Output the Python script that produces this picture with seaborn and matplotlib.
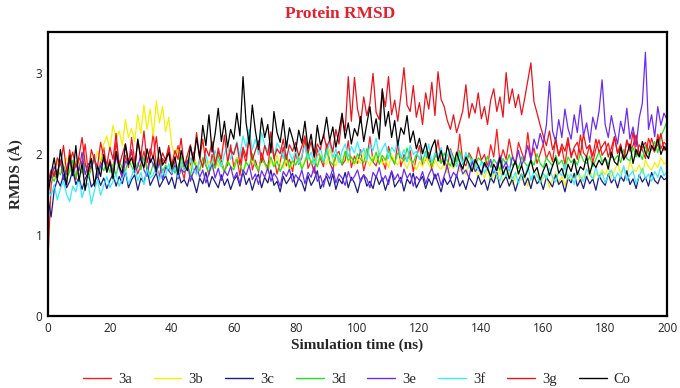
import numpy as np
import pandas as pd
import matplotlib
matplotlib.use("Agg")
import matplotlib.pyplot as plt
import seaborn as sns

# ---------------- data (RMSD in Å, sampled every 1 ns from 0 to 200 ns) ----------------
time_ns = list(range(0, 201))
ligands = ["3a", "3b", "3c", "3d", "3e", "3f", "3g", "Co"]

rmsd_3a = [
    0.70, 1.62, 1.78, 1.70, 1.92, 1.85, 1.74, 2.05, 1.80, 1.68, 1.95, 1.88, 2.12, 1.76, 1.84, 1.99, 1.72, 1.90, 2.08, 1.81,
    1.93, 1.77, 2.15, 1.86, 1.70, 1.98, 1.83, 2.20, 1.91, 1.75, 1.87, 2.03, 1.79, 1.96, 2.25, 1.84, 1.72, 1.94, 1.88, 2.06,
    1.78, 1.90, 2.10, 1.82, 1.69, 1.97, 1.85, 2.02, 1.76, 1.93, 2.18, 1.87, 1.74, 1.99, 1.83, 2.07, 1.91, 1.79, 1.86, 2.11,
    1.84, 1.95, 1.73, 2.04, 1.88, 2.22, 1.80, 1.92, 1.77, 2.01, 1.89, 1.83, 2.14, 1.96, 1.75, 1.90, 2.08, 1.85, 1.93, 1.78,
    2.00, 1.87, 1.95, 2.19, 1.82, 1.91, 1.76, 2.06, 1.94, 1.84, 2.12, 1.89, 1.80, 1.98, 2.03, 1.86, 1.92, 2.16, 1.83, 1.97,
    1.88, 2.05, 1.79, 1.94, 2.21, 1.90, 1.85, 2.00, 1.93, 1.81, 2.09, 1.96, 1.87, 2.13, 1.84, 1.99, 1.91, 2.04, 1.78, 1.95,
    2.10, 1.86, 1.93, 2.02, 1.80, 1.97, 2.17, 1.89, 1.92, 1.83, 2.06, 1.95, 1.88, 2.24, 1.90, 1.85, 2.01, 1.94, 1.87, 2.08,
    1.92, 1.99, 1.84, 2.11, 1.96, 2.30, 1.89, 2.05, 1.93, 2.18, 1.98, 1.87, 2.14, 2.02, 1.91, 2.26, 1.95, 2.07, 1.88, 2.00,
    2.12, 1.94, 2.03, 1.90, 2.20, 1.97, 2.08, 1.86, 2.15, 1.99, 2.05, 1.93, 2.23, 2.01, 1.96, 2.10, 1.89, 2.06, 2.17, 1.98,
    2.04, 2.13, 1.95, 2.21, 2.00, 2.09, 1.92, 2.16, 2.03, 2.27, 1.97, 2.11, 2.05, 1.94, 2.19, 2.08, 2.02, 2.24, 2.06, 2.14,
    2.10,
]

rmsd_3b = [
    1.68, 1.75, 1.82, 1.90, 1.78, 1.86, 1.95, 1.81, 1.73, 1.92, 1.84, 2.00, 1.88, 1.79, 1.96, 1.87, 2.03, 1.91, 2.12, 2.22,
    2.05, 2.35, 2.18, 2.28, 2.10, 2.42, 2.20, 2.31, 2.15, 2.48, 2.25, 2.60, 2.30, 2.55, 2.22, 2.65, 2.38, 2.58, 2.27, 2.45,
    2.10, 1.98, 2.05, 1.90, 1.85, 1.96, 1.82, 1.93, 1.88, 1.79, 1.94, 1.86, 1.91, 1.80, 1.97, 1.84, 1.89, 1.77, 1.92, 1.85,
    1.81, 1.95, 1.87, 1.78, 1.90, 1.83, 1.96, 1.86, 1.80, 1.93, 1.88, 1.76, 1.91, 1.84, 1.98, 1.87, 1.82, 1.94, 1.79, 1.90,
    1.86, 1.97, 1.83, 1.92, 2.02, 1.88, 1.95, 1.84, 1.99, 1.91, 1.87, 2.05, 1.93, 1.85, 1.98, 1.90, 2.03, 1.89, 1.96, 1.86,
    1.94, 1.88, 2.01, 1.92, 1.85, 1.97, 1.90, 2.04, 1.87, 1.95, 1.83, 1.99, 1.91, 1.86, 1.96, 1.89, 1.82, 1.93, 1.88, 1.80,
    1.90, 1.84, 1.95, 1.87, 1.79, 1.92, 1.85, 1.81, 1.88, 1.76, 1.86, 1.82, 1.91, 1.78, 1.84, 1.74, 1.87, 1.80, 1.83, 1.72,
    1.78, 1.70, 1.82, 1.66, 1.75, 1.69, 1.80, 1.64, 1.73, 1.77, 1.62, 1.71, 1.79, 1.67, 1.74, 1.60, 1.72, 1.68, 1.76, 1.63,
    1.70, 1.74, 1.58, 1.69, 1.77, 1.65, 1.72, 1.61, 1.75, 1.68, 1.71, 1.79, 1.66, 1.73, 1.70, 1.82, 1.67, 1.76, 1.72, 1.80,
    1.74, 1.85, 1.71, 1.79, 1.88, 1.76, 1.83, 1.73, 1.90, 1.81, 1.78, 1.86, 1.75, 1.92, 1.84, 1.80, 1.89, 1.83, 1.95, 1.87,
    1.91,
]

rmsd_3c = [
    1.45, 1.22, 1.55, 1.68, 1.60, 1.74, 1.58, 1.66, 1.80, 1.62, 1.71, 1.56, 1.69, 1.77, 1.59, 1.65, 1.73, 1.61, 1.70, 1.57,
    1.67, 1.75, 1.60, 1.72, 1.63, 1.79, 1.58, 1.68, 1.74, 1.55, 1.70, 1.64, 1.81, 1.61, 1.69, 1.76, 1.59, 1.66, 1.73, 1.62,
    1.71, 1.57, 1.78, 1.64, 1.68, 1.60, 1.75, 1.66, 1.52, 1.70, 1.63, 1.77, 1.59, 1.72, 1.65, 1.58, 1.74, 1.61, 1.69, 1.56,
    1.67, 1.73, 1.60, 1.78, 1.62, 1.70, 1.55, 1.68, 1.75, 1.58, 1.71, 1.64, 1.80, 1.61, 1.66, 1.53, 1.72, 1.63, 1.69, 1.76,
    1.59, 1.70, 1.65, 1.54, 1.73, 1.61, 1.68, 1.79, 1.57, 1.66, 1.72, 1.60, 1.75, 1.56, 1.69, 1.63, 1.77, 1.58, 1.71, 1.64,
    1.52, 1.68, 1.74, 1.60, 1.66, 1.57, 1.73, 1.62, 1.70, 1.55, 1.67, 1.78, 1.59, 1.65, 1.71, 1.54, 1.69, 1.63, 1.76, 1.58,
    1.66, 1.72, 1.57, 1.69, 1.61, 1.75, 1.64, 1.53, 1.70, 1.62, 1.68, 1.58, 1.74, 1.60, 1.67, 1.56, 1.71, 1.65, 1.59, 1.73,
    1.62, 1.68, 1.55, 1.71, 1.64, 1.77, 1.58, 1.66, 1.72, 1.60, 1.69, 1.54, 1.67, 1.75, 1.61, 1.70, 1.57, 1.73, 1.63, 1.68,
    1.56, 1.71, 1.65, 1.59, 1.74, 1.62, 1.67, 1.53, 1.70, 1.64, 1.76, 1.60, 1.68, 1.57, 1.72, 1.63, 1.69, 1.55, 1.73, 1.66,
    1.61, 1.75, 1.64, 1.70, 1.58, 1.72, 1.66, 1.79, 1.62, 1.69, 1.57, 1.74, 1.65, 1.71, 1.60, 1.77, 1.67, 1.63, 1.73, 1.68,
    1.70,
]

rmsd_3d = [
    1.60, 1.72, 1.66, 1.80, 1.74, 1.85, 1.69, 1.78, 1.92, 1.71, 1.83, 1.76, 1.88, 1.70, 1.81, 1.95, 1.75, 1.86, 1.79, 1.90,
    1.77, 1.87, 1.73, 1.91, 1.82, 1.78, 1.94, 1.84, 1.76, 1.89, 1.80, 1.96, 1.83, 1.74, 1.88, 1.81, 1.93, 1.78, 1.86, 1.79,
    1.90, 1.76, 1.84, 1.97, 1.80, 1.87, 1.73, 1.92, 1.83, 1.79, 1.95, 1.85, 1.77, 1.89, 1.82, 1.98, 1.86, 1.78, 1.91, 1.84,
    1.80, 1.93, 1.87, 1.76, 1.90, 1.83, 2.00, 1.85, 1.79, 1.94, 1.88, 1.81, 1.96, 1.84, 1.91, 1.78, 1.87, 1.99, 1.83, 1.92,
    1.86, 1.95, 1.81, 1.90, 2.02, 1.88, 1.93, 1.84, 1.97, 1.89, 2.05, 1.91, 1.86, 1.99, 1.94, 1.87, 2.03, 1.92, 1.96, 1.88,
    2.00, 1.93, 1.89, 2.06, 1.95, 1.90, 2.02, 1.87, 1.98, 1.92, 2.04, 1.94, 1.88, 2.01, 1.96, 1.91, 2.07, 1.93, 1.89, 1.99,
    1.95, 1.90, 2.03, 1.92, 1.86, 1.98, 1.94, 1.88, 2.01, 1.91, 1.85, 1.96, 1.90, 2.04, 1.87, 1.93, 1.99, 1.89, 1.84, 1.95,
    1.91, 1.86, 1.97, 1.83, 1.93, 1.88, 1.80, 1.94, 1.87, 1.99, 1.85, 1.90, 1.82, 1.96, 1.89, 1.84, 1.92, 1.86, 2.00, 1.88,
    1.83, 1.95, 1.90, 1.85, 1.98, 1.87, 1.92, 1.81, 1.96, 1.89, 1.94, 1.86, 2.01, 1.91, 1.88, 1.97, 1.84, 1.93, 2.03, 1.90,
    1.95, 1.87, 2.00, 1.92, 1.98, 1.89, 2.05, 1.94, 1.91, 2.08, 1.96, 2.02, 1.93, 2.10, 1.99, 2.06, 2.15, 2.01, 2.22, 2.30,
    2.40,
]

rmsd_3e = [
    1.62, 1.70, 1.84, 1.76, 1.92, 1.68, 1.81, 1.95, 1.73, 1.87, 1.79, 2.02, 1.74, 1.88, 1.83, 1.96, 1.71, 1.85, 1.93, 1.78,
    1.89, 1.75, 1.97, 1.82, 1.70, 1.91, 1.86, 2.05, 1.77, 1.84, 1.99, 1.80, 1.72, 1.94, 1.87, 1.76, 1.90, 1.68, 1.83, 1.79,
    1.74, 1.86, 1.69, 1.81, 1.77, 1.92, 1.66, 1.78, 1.85, 1.71, 1.80, 1.64, 1.76, 1.88, 1.70, 1.82, 1.67, 1.79, 1.73, 1.84,
    1.69, 1.77, 1.63, 1.80, 1.74, 1.86, 1.68, 1.75, 1.62, 1.79, 1.71, 1.83, 1.66, 1.76, 1.70, 1.60, 1.78, 1.72, 1.81, 1.65,
    1.74, 1.68, 1.80, 1.63, 1.77, 1.71, 1.84, 1.66, 1.73, 1.59, 1.76, 1.69, 1.82, 1.64, 1.75, 1.70, 1.61, 1.78, 1.67, 1.72,
    1.80, 1.65, 1.74, 1.69, 1.58, 1.77, 1.71, 1.83, 1.66, 1.73, 1.62, 1.79, 1.68, 1.75, 1.64, 1.81, 1.70, 1.76, 1.60, 1.72,
    1.67, 1.78, 1.63, 1.74, 1.82, 1.69, 1.76, 1.61, 1.73, 1.85, 1.68, 1.77, 1.72, 1.88, 1.75, 1.80, 1.70, 1.91, 1.78, 1.84,
    1.74, 1.87, 1.80, 1.93, 1.76, 1.85, 1.98, 1.82, 1.90, 1.79, 1.96, 1.88, 2.04, 1.86, 1.95, 2.10, 1.92, 2.18, 2.06, 2.25,
    2.12, 2.35, 2.89, 2.28, 2.15, 2.42, 2.20, 2.55, 2.31, 2.18, 2.48, 2.26, 2.60, 2.22, 2.38, 2.14, 2.45, 2.30, 2.52, 2.91,
    2.36, 2.20, 2.47, 2.28, 2.12, 2.40, 2.25, 2.56, 2.18, 2.33, 2.09, 2.44, 2.62, 3.25, 2.30, 2.48, 2.21, 2.58, 2.35, 2.50,
    2.42,
]

rmsd_3f = [
    1.55, 1.48, 1.62, 1.43, 1.57, 1.66, 1.50, 1.41, 1.60, 1.53, 1.70, 1.46, 1.58, 1.64, 1.38, 1.55, 1.68, 1.49, 1.61, 1.72,
    1.58, 1.66, 1.75, 1.60, 1.69, 1.79, 1.63, 1.72, 1.84, 1.67, 1.77, 1.62, 1.81, 1.70, 1.74, 1.86, 1.68, 1.78, 1.73, 1.88,
    1.76, 1.83, 1.71, 1.90, 1.79, 1.85, 1.95, 1.80, 1.74, 1.92, 1.86, 1.99, 1.82, 1.89, 2.04, 1.91, 1.84, 2.00, 2.09, 1.93,
    2.02, 2.15, 1.97, 2.22, 2.08, 2.30, 2.05, 2.18, 1.99, 2.26, 2.11, 2.03, 2.20, 1.96, 2.13, 2.07, 1.94, 2.16, 2.01, 1.92,
    2.05, 1.88, 1.98, 2.10, 1.93, 2.02, 1.86, 1.97, 2.08, 1.91, 2.00, 2.14, 1.95, 2.06, 1.89, 2.03, 2.12, 1.96, 2.09, 2.01,
    2.15, 1.98, 2.07, 1.92, 2.11, 2.04, 2.19, 1.97, 2.06, 2.13, 1.94, 2.08, 2.02, 2.17, 1.95, 2.05, 1.90, 2.10, 1.99, 2.03,
    1.93, 2.06, 1.97, 2.12, 1.89, 2.01, 1.95, 2.08, 1.86, 1.98, 2.04, 1.91, 1.84, 1.99, 1.88, 2.02, 1.82, 1.94, 1.87, 1.79,
    1.90, 1.76, 1.85, 1.70, 1.81, 1.74, 1.66, 1.79, 1.72, 1.84, 1.68, 1.77, 1.63, 1.75, 1.70, 1.86, 1.67, 1.78, 1.73, 1.64,
    1.76, 1.69, 1.82, 1.71, 1.65, 1.78, 1.73, 1.87, 1.68, 1.75, 1.62, 1.79, 1.72, 1.66, 1.81, 1.74, 1.69, 1.83, 1.70, 1.77,
    1.64, 1.73, 1.80, 1.68, 1.76, 1.71, 1.85, 1.67, 1.74, 1.79, 1.63, 1.72, 1.82, 1.69, 1.75, 1.66, 1.78, 1.71, 1.84, 1.73,
    1.77,
]

rmsd_3g = [
    1.65, 1.80, 1.72, 1.95, 1.86, 2.10, 1.78, 1.90, 2.02, 1.83, 1.97, 2.20, 1.88, 1.76, 2.05, 1.92, 1.84, 2.14, 1.95, 1.87,
    2.08, 1.93, 2.25, 1.85, 1.99, 2.12, 1.90, 2.03, 1.82, 2.17, 1.96, 2.28, 1.89, 2.06, 1.94, 2.21, 1.87, 2.01, 1.92, 2.10,
    1.86, 2.04, 1.93, 2.19, 1.84, 1.98, 2.11, 1.90, 2.26, 1.95, 1.83, 2.07, 1.97, 2.15, 1.88, 2.02, 1.94, 2.23, 1.91, 2.05,
    1.99, 2.13, 1.87, 2.08, 1.96, 2.20, 1.92, 2.04, 2.16, 1.89, 2.10, 1.98, 2.27, 1.94, 2.06, 2.00, 2.18, 1.93, 2.11, 2.03,
    2.14, 1.97, 2.09, 2.22, 2.01, 2.15, 1.95, 2.12, 2.05, 2.24, 2.08, 2.17, 2.02, 2.30, 2.12, 2.45, 2.28, 2.95, 2.40, 2.94,
    2.55, 2.38, 2.70, 2.47, 2.62, 2.99, 2.51, 2.42, 2.78, 2.58, 2.95, 2.48, 2.66, 2.40, 2.72, 3.06, 2.60, 2.52, 2.84, 2.45,
    2.63, 2.36, 2.75, 2.55, 2.88, 2.47, 3.01, 2.67, 2.58, 2.41, 2.30, 2.48, 2.26, 2.39, 2.53, 2.85, 2.44, 2.62, 2.50, 2.75,
    2.43, 2.58, 2.36, 2.66, 2.80, 2.52, 2.70, 2.45, 3.00, 2.62, 2.80, 2.57, 2.73, 2.48, 2.68, 2.90, 3.12, 2.64, 2.50, 2.35,
    2.22, 2.10, 2.28, 2.05, 2.16, 1.98, 2.12, 2.03, 2.20, 1.95, 2.08, 2.14, 1.99, 2.24, 2.06, 2.11, 1.97, 2.18, 2.02, 2.09,
    2.15, 1.96, 2.07, 2.21, 2.01, 2.12, 1.94, 2.17, 2.05, 2.10, 2.23, 1.99, 2.08, 2.14, 2.03, 2.19, 2.06, 2.11, 2.25, 2.04,
    2.12,
]

rmsd_co = [
    1.50, 1.75, 1.95, 1.68, 2.05, 1.80, 1.62, 1.98, 1.73, 2.10, 1.66, 1.88, 1.55, 1.79, 1.94, 1.60, 1.85, 1.72, 1.99, 1.77,
    1.90, 1.69, 2.03, 1.84, 1.76, 2.12, 1.87, 1.95, 1.80, 2.18, 1.92, 1.83, 2.06, 1.89, 1.97, 1.78, 2.08, 1.86, 1.93, 2.01,
    1.82, 1.96, 1.74, 2.04, 1.88, 1.79, 2.09, 1.91, 2.20, 1.95, 2.35, 2.10, 2.48, 2.02, 2.25, 2.56, 2.15, 2.40, 2.08, 2.30,
    2.18, 2.50, 2.22, 2.95, 2.38, 2.12, 2.60, 2.28, 2.05, 2.44, 2.20, 2.36, 2.01, 2.52, 2.26, 2.14, 2.42, 2.07, 2.32, 2.19,
    2.03, 2.29, 2.13, 2.40, 2.06, 2.24, 1.97, 2.35, 2.11, 2.21, 2.45, 2.16, 2.33, 2.08, 2.27, 2.50, 2.19, 2.38, 2.12, 2.31,
    2.22, 2.46, 2.15, 2.37, 2.58, 2.25, 2.43, 2.18, 2.80, 2.34, 2.52, 2.20, 2.41, 2.10, 2.32, 2.24, 2.47, 2.14, 2.28, 2.06,
    2.19, 2.00, 2.13, 1.94, 2.08, 2.17, 1.91, 2.04, 1.86, 2.10, 1.97, 1.84, 2.02, 1.90, 1.81, 1.96, 1.88, 1.78, 1.93, 1.85,
    1.76, 1.89, 1.82, 1.72, 1.87, 1.79, 1.95, 1.74, 1.84, 1.69, 1.81, 1.91, 1.75, 1.86, 1.71, 1.80, 1.92, 1.77, 1.83, 1.68,
    1.79, 1.88, 1.73, 1.85, 1.95, 1.76, 1.82, 1.70, 1.87, 1.78, 1.93, 1.74, 1.84, 1.80, 1.97, 1.75, 1.89, 1.83, 1.92, 1.86,
    1.95, 1.81, 2.02, 1.90, 1.86, 2.08, 1.93, 1.99, 2.12, 1.88, 2.05, 1.96, 2.15, 2.01, 1.94, 2.10, 2.04, 2.18, 1.99, 2.09,
    2.02,
]

x_ticks = [0, 20, 40, 60, 80, 100, 120, 140, 160, 180, 200]
y_ticks = [0, 1, 2, 3]

series = {
    "3a": rmsd_3a, "3b": rmsd_3b, "3c": rmsd_3c, "3d": rmsd_3d,
    "3e": rmsd_3e, "3f": rmsd_3f, "3g": rmsd_3g, "Co": rmsd_co,
}
df = pd.concat(
    [pd.DataFrame({"time": time_ns, "rmsd": vals, "ligand": name}) for name, vals in series.items()],
    ignore_index=True,
)

palette = {
    "3a": "#ff1a1a", "3b": "#f2f200", "3c": "#1c1c86", "3d": "#1ee61e",
    "3e": "#6a2cf0", "3f": "#33ecff", "3g": "#e8141c", "Co": "#000000",
}

# ---------------- plotting ----------------
sns.set_theme(style="white")
plt.rcParams["font.family"] = ["DejaVu Sans"]

fig = plt.figure(figsize=(6.8, 3.88), dpi=100)
ax = fig.add_axes([0.0706, 0.1856, 0.9104, 0.7319])

sns.lineplot(data=df, x="time", y="rmsd", hue="ligand", hue_order=ligands,
             palette=palette, estimator=None, linewidth=0.9, ax=ax)

ax.set_xlim(0, 200)
ax.set_ylim(0, 3.5)
ax.set_xticks(x_ticks)
ax.set_yticks(y_ticks)
ax.tick_params(axis="both", length=0, labelsize=8.5, pad=4, colors="#222222")
for lbl in ax.get_xticklabels() + ax.get_yticklabels():
    lbl.set_family("Open Sans")

for sp in ax.spines.values():
    sp.set_visible(True)
    sp.set_color("black")
    sp.set_linewidth(1.6)

serif = "Liberation Serif"
ax.set_xlabel("Simulation time (ns)", fontsize=11, fontweight="bold", family=serif, labelpad=3)
ax.set_ylabel("RMDS (Å)", fontsize=11, fontweight="bold", family=serif, labelpad=8)
fig.text(0.5, 0.965, "Protein RMSD", ha="center", va="center", color="#e3202c",
         fontsize=12.5, fontweight="bold", family=serif)

ax.legend_.remove()
handles, labels = ax.get_legend_handles_labels()
leg = fig.legend(handles, labels, loc="center", bbox_to_anchor=(0.525, 0.023), ncol=8,
                 frameon=False, handlelength=1.9, handletextpad=0.5, columnspacing=1.5,
                 prop={"family": serif, "size": 10.5})
for line in leg.get_lines():
    line.set_linewidth(1.0)

fig.savefig("out.png", dpi=100)
